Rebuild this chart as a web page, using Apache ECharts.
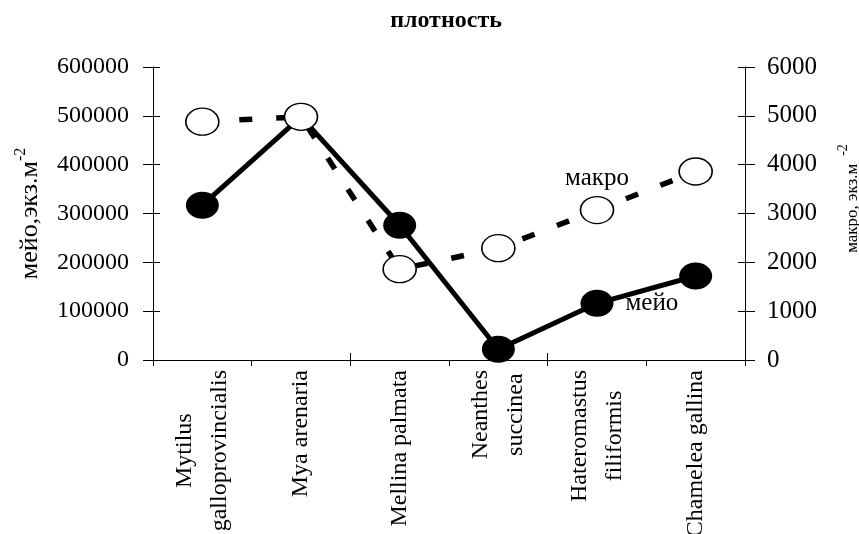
<!DOCTYPE html>
<html>
<head>
<meta charset="utf-8">
<script src="https://cdn.jsdelivr.net/npm/echarts@6.0.0/dist/echarts.min.js"></script>
<style>
  html, body { margin: 0; padding: 0; background: #fff; }
  #chart { width: 859px; height: 534px; }
</style>
</head>
<body>
<div id="chart"></div>
<script>
// data
const categories = [
  'Mytilus\ngalloprovincialis',
  'Mya arenaria',
  'Mellina palmata',
  'Neanthes\nsuccinea',
  'Hateromastus\nfiliformis',
  'Chamelea gallina'
];
const meioValues = [317000, 498000, 276000, 22000, 116000, 172000];
const macroValues = [4880, 4980, 1860, 2290, 3070, 3860];
const meioAxis = { min: 0, max: 600000, interval: 100000 };
const macroAxis = { min: 0, max: 6000, interval: 1000 };
const seriesNames = ['мейо', 'макро'];
const labelIndex = 4; // where the series names sit

const font = 'Liberation Serif, Times New Roman, serif';
// circle drawn from beziers so it stretches into an ellipse
const ellipse = 'path://M50,0C77.6,0 100,22.4 100,50C100,77.6 77.6,100 50,100C22.4,100 0,77.6 0,50C0,22.4 22.4,0 50,0Z';

const chart = echarts.init(document.getElementById('chart'));

const catLabel = (v) => v.split('\n').map(s => '{c|' + s + '}').join('\n');
const plain = (v) => String(v);

const option = {
  animation: false,
  backgroundColor: '#fff',
  title: {
    text: 'плотность',
    left: 446,
    top: 9,
    padding: 0,
    textAlign: 'center',
    textStyle: { fontFamily: font, fontSize: 24, fontWeight: 'bold', color: '#000' }
  },
  grid: { left: 153, right: 114, top: 67, bottom: 174, containLabel: false, outerBoundsMode: 'none' },
  xAxis: [
    {
      type: 'category',
      data: categories,
      position: 'bottom',
      boundaryGap: true,
      axisLine: { show: true, lineStyle: { color: '#000', width: 1 } },
      axisTick: { show: true, length: 6, lineStyle: { color: '#000', width: 1 } },
      axisLabel: {
        interval: 0,
        rotate: 90,
        margin: 10,
        formatter: catLabel,
        rich: {
          c: { align: 'center', fontFamily: font, fontSize: 24, lineHeight: 35, color: '#000' }
        }
      }
    },
    {
      type: 'category',
      data: categories,
      position: 'bottom',
      axisLine: { show: false },
      axisTick: { show: true, inside: true, length: 7, lineStyle: { color: '#000', width: 1 } },
      axisLabel: { show: false }
    }
  ],
  yAxis: [
    {
      type: 'value',
      position: 'left',
      min: meioAxis.min, max: meioAxis.max, interval: meioAxis.interval,
      name: '{a|мейо,экз.м}{s|-2}',
      nameLocation: 'middle',
      nameRotate: 90,
      nameGap: 106,
      nameMoveOverlap: false,
      nameTextStyle: {
        rich: {
          a: { fontFamily: font, fontSize: 26, lineHeight: 34, color: '#000' },
          s: { fontFamily: font, fontSize: 16, lineHeight: 16, verticalAlign: 'top', color: '#000' }
        }
      },
      axisLine: { show: true, lineStyle: { color: '#000', width: 1 } },
      axisTick: { show: true, length: 10, lineStyle: { color: '#000', width: 1 } },
      axisLabel: { margin: 24, fontFamily: font, fontSize: 24, color: '#000', formatter: plain },
      splitLine: { show: false }
    },
    {
      type: 'value',
      position: 'right',
      min: macroAxis.min, max: macroAxis.max, interval: macroAxis.interval,
      name: '{a|макро, экз.м}{s|-2}',
      nameLocation: 'middle',
      nameRotate: 90,
      nameGap: 91,
      nameMoveOverlap: false,
      nameTextStyle: {
        padding: [0, 0, 0, 30],
        rich: {
          a: { fontFamily: font, fontSize: 17, lineHeight: 34, color: '#000' },
          s: { fontFamily: font, fontSize: 14, lineHeight: 14, verticalAlign: 'top', padding: [0, 0, 0, 8], color: '#000' }
        }
      },
      axisLine: { show: true, lineStyle: { color: '#000', width: 1 } },
      axisTick: { show: true, length: 10, lineStyle: { color: '#000', width: 1 } },
      axisLabel: { margin: 22, fontFamily: font, fontSize: 25, color: '#000', formatter: plain },
      splitLine: { show: false }
    },
    {
      type: 'value',
      position: 'left',
      min: meioAxis.min, max: meioAxis.max, interval: meioAxis.interval,
      axisLine: { show: false },
      axisTick: { show: true, inside: true, length: 7, lineStyle: { color: '#000', width: 1 } },
      axisLabel: { show: false },
      splitLine: { show: false }
    },
    {
      type: 'value',
      position: 'right',
      min: macroAxis.min, max: macroAxis.max, interval: macroAxis.interval,
      axisLine: { show: false },
      axisTick: { show: true, inside: true, length: 7, lineStyle: { color: '#000', width: 1 } },
      axisLabel: { show: false },
      splitLine: { show: false }
    }
  ],
  series: [
    {
      name: seriesNames[0],
      type: 'line',
      xAxisIndex: 0,
      yAxisIndex: 0,
      data: meioValues,
      z: 2,
      symbol: ellipse,
      symbolSize: [33, 27],
      itemStyle: { color: '#000' },
      lineStyle: { color: '#000', width: 5 },
      label: {
        show: true,
        position: 'right',
        distance: 12,
        fontFamily: font,
        fontSize: 25,
        color: '#000',
        formatter: (p) => p.dataIndex === labelIndex ? seriesNames[0] : ''
      }
    },
    {
      name: seriesNames[1],
      type: 'line',
      xAxisIndex: 0,
      yAxisIndex: 1,
      data: macroValues,
      z: 3,
      symbol: ellipse,
      symbolSize: [33, 27],
      itemStyle: { color: '#fff', borderColor: '#000', borderWidth: 1.5 },
      lineStyle: { color: '#000', width: 5.5, type: [13, 24] },
      label: {
        show: true,
        position: 'top',
        distance: 5,
        fontFamily: font,
        fontSize: 25,
        color: '#000',
        formatter: (p) => p.dataIndex === labelIndex ? seriesNames[1] : ''
      }
    }
  ]
};

chart.setOption(option);
</script>
</body>
</html>
